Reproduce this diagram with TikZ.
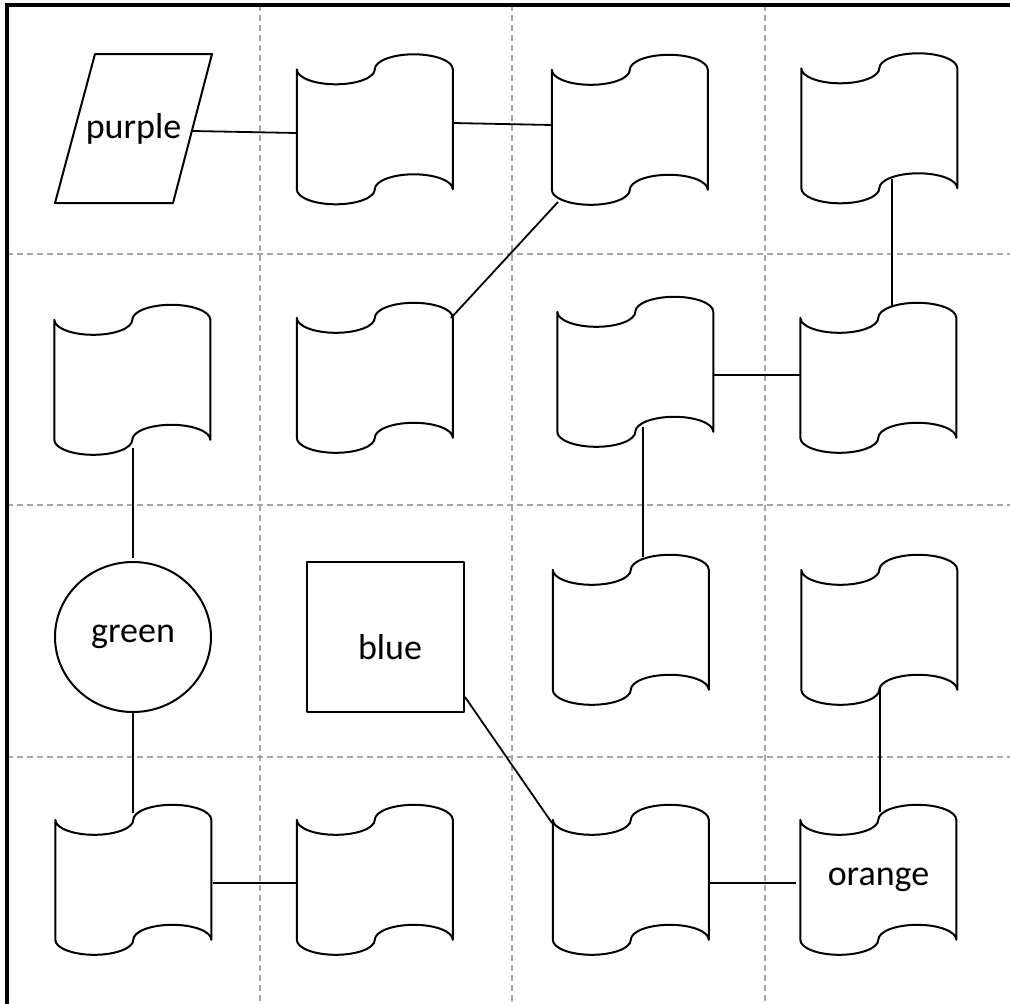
\documentclass[tikz,border=0pt]{standalone}
\usepackage{fontspec}
\setmainfont{Carlito}
\usetikzlibrary{calc,shapes.geometric}
\definecolor{gridgray}{HTML}{A6A6A6}
\newcommand\labelfont{\fontsize{36pt}{43pt}\selectfont}
\tikzset{
  outline/.style={line width=2pt, line join=round},
  link/.style={line width=1.8pt},
  gridline/.style={draw=gridgray, line width=2pt, dash pattern=on 6pt off 4pt},
  tapebox/.style={draw=none, minimum width=156pt, minimum height=150pt, inner sep=0pt, font=\labelfont},
}
\newcommand\tapenode[4]{%
  \node[tapebox] (#1) at (#2,-#3) {#4};
  \draw[outline] ($(#1.north west)+(0,-15)$)
    arc[start angle=180,end angle=360,x radius=39pt,y radius=15pt]
    arc[start angle=180,end angle=0,x radius=39pt,y radius=15pt]
    -- ++(0,-120)
    arc[start angle=0,end angle=180,x radius=39pt,y radius=15pt]
    arc[start angle=0,end angle=-180,x radius=39pt,y radius=15pt]
    -- cycle;
}
\begin{document}
\begin{tikzpicture}[x=1pt,y=1pt]
\useasboundingbox (0,0) rectangle (1010,-1004);
% grid
\foreach \gx in {260,512,765} \draw[gridline] (\gx,-5) -- (\gx,-1004);
\foreach \gy in {254,505,757} \draw[gridline] (7,-\gy) -- (1010,-\gy);
% border
\draw[line width=4pt] (7,-1004) -- (7,-5) -- (1010,-5);
% purple parallelogram
\node[draw=none, minimum width=118pt, minimum height=149pt, inner sep=0pt, font=\labelfont] (purple) at (133.5,-128.5) {purple};
\draw[outline] ($(purple.center)+(-38.5,74.5)$) -- ($(purple.center)+(78.5,74.5)$) -- ($(purple.center)+(39.5,-74.5)$) -- ($(purple.center)+(-78.5,-74.5)$) -- cycle;
% tapes
\tapenode{t12}{375}{129.5}{}
\tapenode{t13}{630}{130}{}
\tapenode{t14}{879.5}{128.5}{}
\tapenode{t21}{132.5}{380}{}
\tapenode{t22}{375}{378}{}
\tapenode{t23}{635.5}{372}{}
\tapenode{t24}{878.5}{378}{}
\tapenode{t33}{631}{630}{}
\tapenode{t34}{879.5}{630}{}
\tapenode{t41}{133.5}{880}{}
\tapenode{t42}{375}{880}{}
\tapenode{t43}{631}{880}{}
\tapenode{orange}{878.5}{880}{orange}
% green ellipse
\node[outline, draw, ellipse, minimum width=156pt, minimum height=150pt, inner sep=0pt, font=\labelfont] (green) at (133,-637) {green};
% blue square
\node[outline, draw, minimum width=157pt, minimum height=150pt, inner sep=0pt] (blue) at (385.5,-637) {};
\node[font=\labelfont, inner sep=0pt] (bluetext) at ($(blue.center)+(4.5,-10.5)$) {blue};
% connectors
\draw[link] ($(purple.center)+(59.5,-2.5)$) -- ($(t12.center)+(-78,-3.5)$);
\draw[link] ($(t12.center)+(78,6.5)$) -- ($(t13.center)+(-78,5)$);
\draw[link] ($(t13.center)+(-72,-72)$) -- ($(t22.center)+(76,60)$);
\draw[link] ($(t14.center)+(12.5,-50.5)$) -- ($(t24.center)+(13.5,72)$);
\draw[link] ($(t23.center)+(78.5,-3)$) -- ($(t24.center)+(-78.5,3)$);
\draw[link] ($(t23.center)+(7.5,-55)$) -- ($(t33.center)+(12,73)$);
\draw[link] ($(t21.center)+(0.5,-68)$) -- ($(green.center)+(0,79)$);
\draw[link] ($(green.center)+(0,-75)$) -- ($(t41.center)+(-0.5,67)$);
\draw[link] ($(t41.center)+(79.5,-3)$) -- ($(t42.center)+(-78,-3)$);
\draw[link] ($(blue.center)+(79.5,-60)$) -- ($(t43.center)+(-79,57)$);
\draw[link] ($(t43.center)+(79,-3)$) -- ($(orange.center)+(-82.5,-3)$);
\draw[link] ($(t34.center)+(0.5,-58)$) -- ($(orange.center)+(1.5,68)$);
\end{tikzpicture}
\end{document}
